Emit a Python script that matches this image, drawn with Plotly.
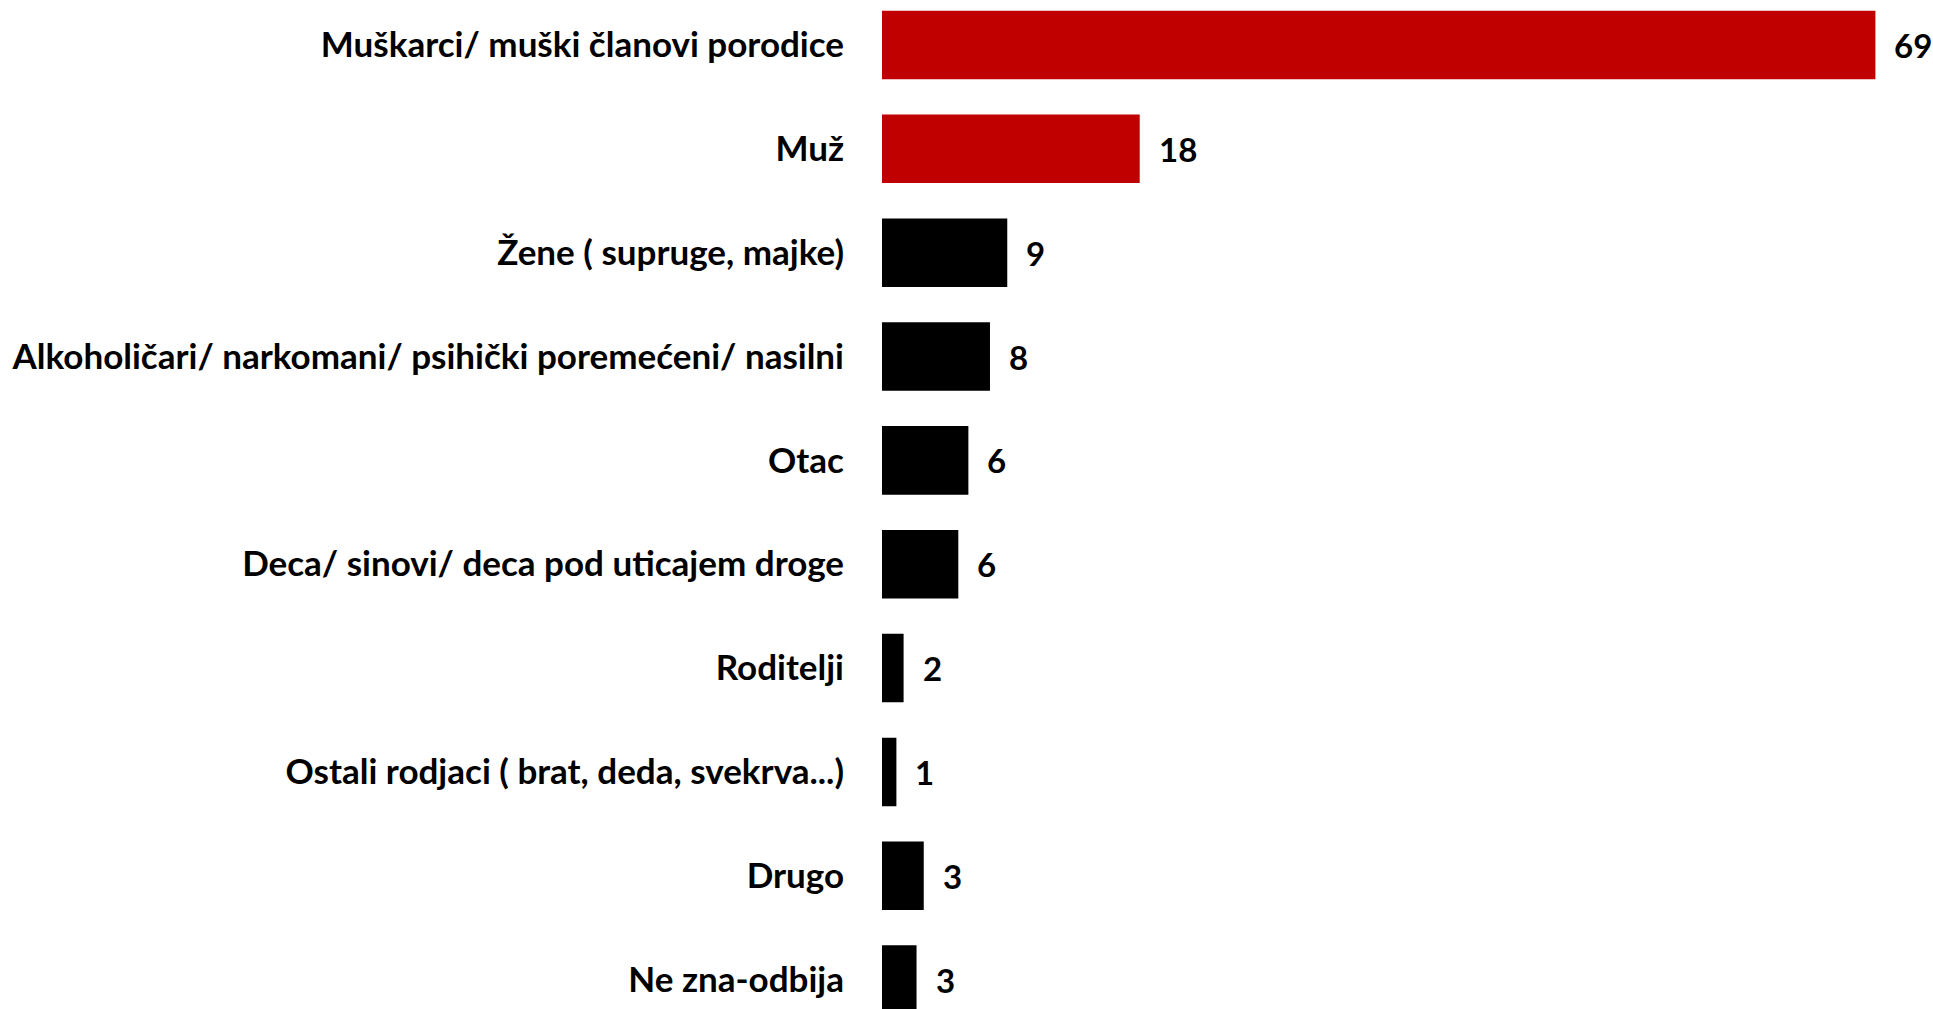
import plotly.graph_objects as go

categories = [
    "Muškarci/ muški članovi porodice",
    "Muž",
    "Žene ( supruge, majke)",
    "Alkoholičari/ narkomani/ psihički poremećeni/ nasilni",
    "Otac",
    "Deca/ sinovi/ deca pod uticajem droge",
    "Roditelji",
    "Ostali rodjaci ( brat, deda, svekrva...)",
    "Drugo",
    "Ne zna-odbija",
]
values = [69.0, 17.9, 8.7, 7.5, 6.0, 5.3, 1.5, 1.0, 2.9, 2.4]
value_labels = ["69", "18", "9", "8", "6", "6", "2", "1", "3", "3"]
bar_colors = ["#C00000", "#C00000"] + ["#000000"] * 8

FONT = "Lato, 'Open Sans', sans-serif"

fig = go.Figure()
fig.add_trace(go.Bar(
    x=values,
    y=categories,
    orientation="h",
    marker=dict(color=bar_colors, line=dict(width=0)),
    hoverinfo="skip",
))

for cat, v, lab in zip(categories, values, value_labels):
    fig.add_annotation(
        x=v, y=cat, text=lab, showarrow=False,
        xanchor="left", yanchor="middle", xshift=17,
        font=dict(family=FONT, size=33, color="#000000", weight="bold"),
    )

fig.update_layout(
    width=1933, height=1009,
    margin=dict(l=882, r=0, t=0, b=0),
    paper_bgcolor="white", plot_bgcolor="white",
    showlegend=False,
    bargap=0.34,
    xaxis=dict(range=[0, 73.0], visible=False, showgrid=False, zeroline=False),
    yaxis=dict(
        categoryorder="array", categoryarray=categories,
        range=[9.283, -0.433],
        showgrid=False, zeroline=False, showline=False,
        ticks="", ticklabelstandoff=37,
        tickfont=dict(family=FONT, size=35, color="#000000", weight="bold"),
    ),
)

fig.write_html(
    "out.html",
    config={"displayModeBar": False},
    post_script="document.body.style.margin='0';document.body.style.overflow='hidden';",
)
